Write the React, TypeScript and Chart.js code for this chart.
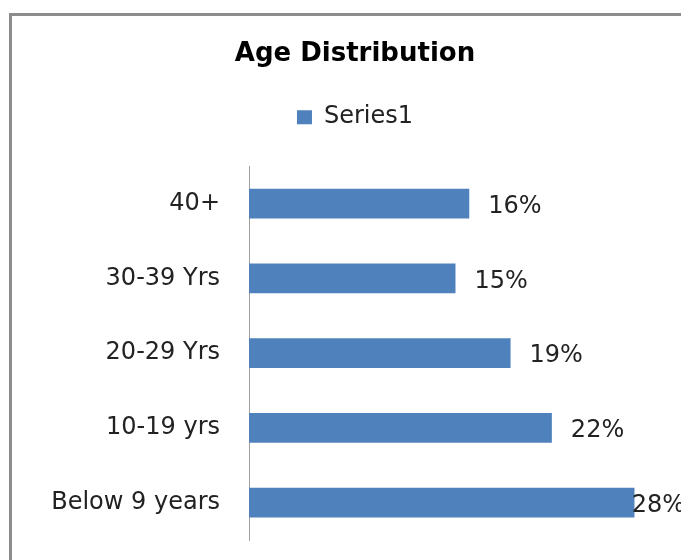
import React, { useEffect, useRef } from "react";
import { Chart, registerables } from "chart.js";

Chart.register(...registerables);

const categories: string[] = ["Below 9 years", "10-19 yrs", "20-29 Yrs", "30-39 Yrs", "40+"];
const seriesName = "Series1";
const seriesValues: number[] = [28, 22, 19, 15, 16];
const axisMin = 0;
const axisMax = 30;
const chartTitle = "Age Distribution";

const FONT = "'DejaVu Sans', sans-serif";
const CANVAS_W = 710;
const CANVAS_H = 560;

const frameAndLabels = {
  id: "frameAndLabels",
  beforeDraw(chart: any) {
    const ctx = chart.ctx;
    ctx.save();
    ctx.strokeStyle = "#8c8c8c";
    ctx.lineWidth = 3;
    ctx.strokeRect(10.5, 14.5, chart.width - 21, chart.height + 20);
    ctx.restore();
  },
  afterDatasetsDraw(chart: any) {
    const ctx = chart.ctx;
    const meta = chart.getDatasetMeta(0);
    ctx.save();
    ctx.font = `24px ${FONT}`;
    ctx.fillStyle = "#222";
    ctx.textAlign = "left";
    ctx.textBaseline = "middle";
    meta.data.forEach((el: any, i: number) => {
      const text = `${chart.data.datasets[0].data[i]}%`;
      const tw = ctx.measureText(text).width;
      const x = Math.min(el.x + 19, chart.width - 25 - tw);
      ctx.fillText(text, x, el.y + 3);
    });
    ctx.restore();
  },
};

export default function App() {
  const ref = useRef<HTMLCanvasElement | null>(null);
  useEffect(() => {
    document.body.style.margin = "0";
    if (!ref.current) return;
    const chart = new Chart(ref.current, {
      type: "bar",
      data: {
        labels: categories,
        datasets: [
          {
            label: seriesName,
            data: seriesValues,
            backgroundColor: "#4F81BD",
            borderWidth: 0,
            barPercentage: 0.4,
            categoryPercentage: 1,
          },
        ],
      },
      options: {
        indexAxis: "y",
        responsive: false,
        animation: false,
        layout: { padding: { left: 0, right: 0, top: 0, bottom: 20 } },
        plugins: {
          title: {
            display: true,
            text: chartTitle,
            color: "#000",
            font: { family: FONT, size: 26, weight: "bold" },
            padding: { top: 39, bottom: 25 },
          },
          legend: {
            display: true,
            position: "top",
            labels: {
              color: "#222",
              font: { family: FONT, size: 24 },
              boxWidth: 15,
              boxHeight: 14,
              padding: 10,
            },
          },
          tooltip: { enabled: false },
        },
        scales: {
          x: {
            position: "top",
            min: axisMin,
            max: axisMax,
            grid: { display: false, drawTicks: false },
            border: { display: false },
            ticks: { display: false },
            afterFit: (s: any) => {
              s.height = 27;
            },
          },
          y: {
            reverse: true,
            grid: { display: false, drawTicks: false },
            border: { display: true, color: "#a0a0a0", width: 1 },
            ticks: {
              color: "#222",
              font: { family: FONT, size: 24 },
              padding: 29,
            },
            afterFit: (s: any) => {
              s.width = 249;
              s.paddingTop = 0;
              s.paddingBottom = 0;
            },
          },
          yRight: {
            type: "linear",
            axis: "y",
            position: "right",
            display: true,
            grid: { display: false, drawTicks: false },
            border: { display: false },
            ticks: { display: false },
            afterFit: (s: any) => {
              s.width = 48;
              s.paddingTop = 0;
              s.paddingBottom = 0;
            },
          },
        },
      },
      plugins: [frameAndLabels],
    });
    return () => chart.destroy();
  }, []);
  return (
    <div style={{ width: 681, height: 560, overflow: "hidden", position: "relative", background: "#fff" }}>
      <canvas ref={ref} width={CANVAS_W} height={CANVAS_H} style={{ display: "block" }} />
    </div>
  );
}
